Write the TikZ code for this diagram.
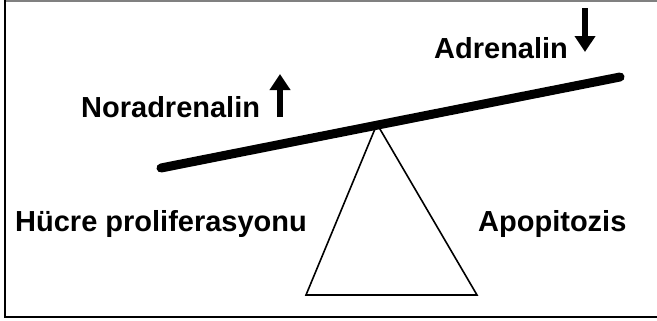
\documentclass[tikz,border=0pt]{standalone}
\usepackage{fontspec}
\setmainfont{Liberation Sans}
\usetikzlibrary{arrows.meta}

\begin{document}
\begin{tikzpicture}[x=1bp,y=-1bp,>={Triangle[width=20bp,length=16bp]},
      lbl/.style={font=\fontsize{29bp}{34bp}\selectfont\bfseries,inner sep=0pt,anchor=base west},
      bigarrow/.style={->,line width=6bp},
      beam/.style={line width=9bp,line cap=round}]
    \useasboundingbox (0,0) rectangle (657,320);
    % frame
    \draw[gray,line width=2bp] (4,1)--(657,1);
    \draw[line width=2bp] (4.5,0)--(4.5,317)--(657,317);
    % labels
    \node[lbl] (nor) at (81,117) {Noradrenalin};
    \node[lbl] (adr) at (434,58) {Adrenalin};
    \node[lbl] (huc) at (15,231) {Hücre proliferasyonu};
    \node[lbl] (apo) at (478,231) {Apopitozis};
    % arrows
    \coordinate (up0) at (280,117);
    \coordinate (up1) at (280,74);
    \coordinate (dn0) at (585,8);
    \coordinate (dn1) at (585,52);
    \draw[bigarrow] (up0)--(up1);
    \draw[bigarrow] (dn0)--(dn1);
    % seesaw
    \coordinate (apex) at (377,124);
    \draw[line width=1.6bp,line join=miter] (apex)--(306,295)--(477,295)--cycle;
    \draw[beam] (161,168)--(620,77);
  \end{tikzpicture}
\end{document}
